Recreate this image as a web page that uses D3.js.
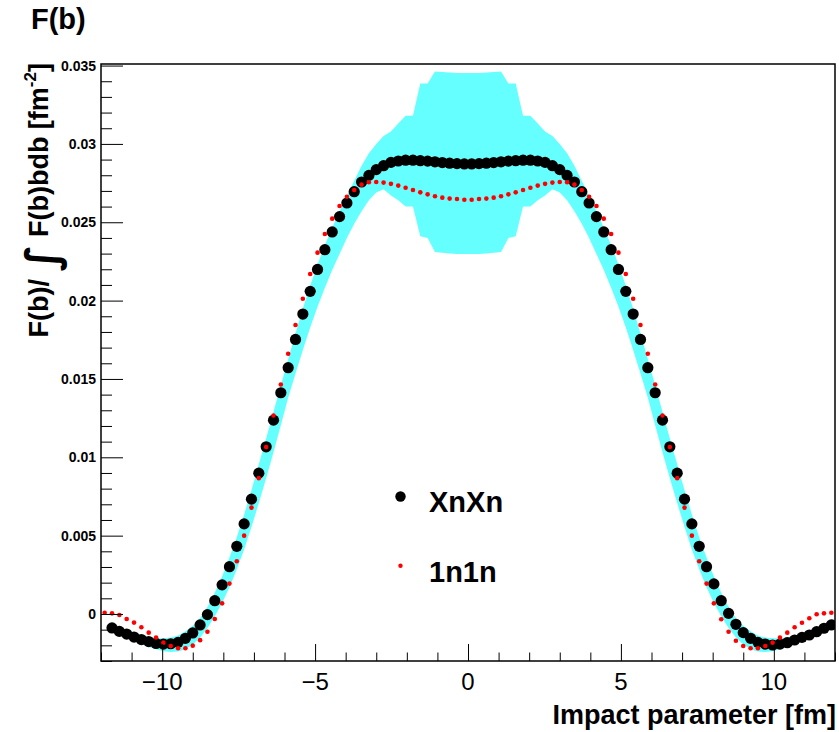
<!DOCTYPE html>
<html>
<head>
<meta charset="utf-8">
<script src="https://cdn.jsdelivr.net/npm/d3@7"></script>
<style>
  html, body { margin: 0; padding: 0; background: #fff; }
  svg { display: block; }
  text { font-family: "Liberation Sans", Arial, Helvetica, sans-serif; }
</style>
</head>
<body>
<svg id="chart" width="839" height="732"></svg>
<script>
// Histogram bin centres (bin width 0.24 fm over [-12, 12])
const binCenter = [
  -11.88, -11.64, -11.40, -11.16, -10.92, -10.68, -10.44, -10.20, -9.96, -9.72,
  -9.48, -9.24, -9.00, -8.76, -8.52, -8.28, -8.04, -7.80, -7.56, -7.32,
  -7.08, -6.84, -6.60, -6.36, -6.12, -5.88, -5.64, -5.40, -5.16, -4.92,
  -4.68, -4.44, -4.20, -3.96, -3.72, -3.48, -3.24, -3.00, -2.76, -2.52,
  -2.28, -2.04, -1.80, -1.56, -1.32, -1.08, -0.84, -0.60, -0.36, -0.12,
  0.12, 0.36, 0.60, 0.84, 1.08, 1.32, 1.56, 1.80, 2.04, 2.28,
  2.52, 2.76, 3.00, 3.24, 3.48, 3.72, 3.96, 4.20, 4.44, 4.68,
  4.92, 5.16, 5.40, 5.64, 5.88, 6.12, 6.36, 6.60, 6.84, 7.08,
  7.32, 7.56, 7.80, 8.04, 8.28, 8.52, 8.76, 9.00, 9.24, 9.48,
  9.72, 9.96, 10.20, 10.44, 10.68, 10.92, 11.16, 11.40, 11.64, 11.88
];

// XnXn: normalised F(b)
const xnxn = [
  null, -0.00089, -0.00111, -0.00128, -0.00147, -0.00163, -0.00176, -0.00188, -0.00192, -0.00190,
  -0.00181, -0.00155, -0.00121, -0.00070, -0.00004, 0.00085, 0.00186, 0.00302, 0.00432, 0.00575,
  0.00733, 0.00899, 0.01067, 0.01237, 0.01412, 0.01572, 0.01752, 0.01914, 0.02059, 0.02199,
  0.02325, 0.02438, 0.02536, 0.02623, 0.02695, 0.02757, 0.02799, 0.02836, 0.02861, 0.02882,
  0.02891, 0.02896, 0.02896, 0.02893, 0.02890, 0.02886, 0.02881, 0.02877, 0.02874, 0.02872,
  0.02872, 0.02874, 0.02877, 0.02881, 0.02886, 0.02890, 0.02893, 0.02896, 0.02896, 0.02891,
  0.02882, 0.02861, 0.02836, 0.02799, 0.02757, 0.02695, 0.02623, 0.02536, 0.02438, 0.02325,
  0.02199, 0.02059, 0.01914, 0.01752, 0.01572, 0.01412, 0.01237, 0.01067, 0.00899, 0.00733,
  0.00575, 0.00432, 0.00302, 0.00192, 0.00085, 0.00004, -0.00066, -0.00119, -0.00155, -0.00181,
  -0.00192, -0.00198, -0.00192, -0.00183, -0.00166, -0.00149, -0.00134, -0.00113, -0.00091, -0.00070
];

// 1n1n: normalised F(b)
const n1n1 = [
  0.00008, 0.00004, -0.00006, -0.00032, -0.00055, -0.00085, -0.00119, -0.00150, -0.00183, -0.00205,
  -0.00219, -0.00219, -0.00202, -0.00167, -0.00113, -0.00032, 0.00068, 0.00194, 0.00337, 0.00500,
  0.00679, 0.00867, 0.01065, 0.01267, 0.01465, 0.01661, 0.01844, 0.02012, 0.02170, 0.02306,
  0.02425, 0.02523, 0.02604, 0.02663, 0.02706, 0.02740, 0.02755, 0.02757, 0.02753, 0.02745,
  0.02734, 0.02720, 0.02706, 0.02691, 0.02678, 0.02666, 0.02657, 0.02651, 0.02648, 0.02644,
  0.02644, 0.02648, 0.02651, 0.02657, 0.02666, 0.02678, 0.02691, 0.02706, 0.02720, 0.02734,
  0.02745, 0.02753, 0.02757, 0.02755, 0.02740, 0.02706, 0.02663, 0.02604, 0.02523, 0.02425,
  0.02306, 0.02170, 0.02012, 0.01844, 0.01661, 0.01465, 0.01267, 0.01065, 0.00867, 0.00679,
  0.00500, 0.00337, 0.00194, 0.00068, -0.00034, -0.00113, -0.00171, -0.00204, -0.00219, -0.00219,
  -0.00204, -0.00183, -0.00151, -0.00119, -0.00085, -0.00056, -0.00027, -0.00002, 0.00004, 0.00008
];

// Uncertainty band on XnXn: upper and lower edges
const bandHigh = [
  null, -0.00075, -0.00093, -0.00108, -0.00124, -0.00137, -0.00148, -0.00155, -0.00155, -0.00150,
  -0.00138, -0.00110, -0.00075, -0.00025, 0.00045, 0.00135, 0.00240, 0.00360, 0.00490, 0.00635,
  0.00790, 0.00955, 0.01120, 0.01290, 0.01460, 0.01625, 0.01790, 0.01950, 0.02095, 0.02230,
  0.02355, 0.02465, 0.02570, 0.02670, 0.02765, 0.02860, 0.02940, 0.03000, 0.03050, 0.03080,
  0.03130, 0.03180, 0.03180, 0.03385, 0.03385, 0.03462, 0.03459, 0.03456, 0.03453, 0.03452,
  0.03452, 0.03453, 0.03456, 0.03459, 0.03462, 0.03385, 0.03385, 0.03180, 0.03180, 0.03130,
  0.03080, 0.03050, 0.03000, 0.02940, 0.02860, 0.02765, 0.02670, 0.02570, 0.02465, 0.02355,
  0.02230, 0.02095, 0.01950, 0.01790, 0.01625, 0.01460, 0.01290, 0.01120, 0.00955, 0.00790,
  0.00635, 0.00490, 0.00360, 0.00240, 0.00135, 0.00045, -0.00025, -0.00075, -0.00110, -0.00138,
  -0.00150, -0.00155, -0.00155, -0.00148, -0.00137, -0.00124, -0.00108, -0.00093, -0.00075, -0.00055
];
const bandLow = [
  null, -0.00105, -0.00130, -0.00150, -0.00172, -0.00192, -0.00210, -0.00225, -0.00238, -0.00243,
  -0.00240, -0.00225, -0.00195, -0.00150, -0.00090, -0.00015, 0.00070, 0.00170, 0.00285, 0.00412,
  0.00555, 0.00708, 0.00866, 0.01032, 0.01205, 0.01380, 0.01535, 0.01685, 0.01828, 0.01960,
  0.02082, 0.02195, 0.02298, 0.02400, 0.02490, 0.02570, 0.02640, 0.02690, 0.02710, 0.02670,
  0.02640, 0.02600, 0.02600, 0.02410, 0.02400, 0.02310, 0.02305, 0.02300, 0.02298, 0.02297,
  0.02297, 0.02298, 0.02300, 0.02305, 0.02310, 0.02400, 0.02410, 0.02600, 0.02600, 0.02640,
  0.02670, 0.02710, 0.02690, 0.02640, 0.02570, 0.02490, 0.02400, 0.02298, 0.02195, 0.02082,
  0.01960, 0.01828, 0.01685, 0.01535, 0.01380, 0.01205, 0.01032, 0.00866, 0.00708, 0.00555,
  0.00412, 0.00285, 0.00170, 0.00070, -0.00015, -0.00090, -0.00150, -0.00195, -0.00225, -0.00240,
  -0.00243, -0.00238, -0.00225, -0.00210, -0.00192, -0.00172, -0.00150, -0.00130, -0.00105, -0.00090
];

const xTickValues = [-10, -5, 0, 5, 10];
const yTickValues = [0, 0.005, 0.01, 0.015, 0.02, 0.025, 0.03, 0.035];
const yTickLabels = ["0", "0.005", "0.01", "0.015", "0.02", "0.025", "0.03", "0.035"];
const legendLabels = ["XnXn", "1n1n"];

const svg = d3.select("#chart");
const plot = { left: 101, right: 835, top: 64, bottom: 661 };

const x = d3.scaleLinear().domain([-12, 12]).range([plot.left, plot.right]);
const y = d3.scaleLinear().domain([-0.003, 0.0351]).range([plot.bottom, plot.top]);

// Clip marks to the frame
svg.append("defs").append("clipPath").attr("id", "frame")
  .append("rect")
  .attr("x", plot.left).attr("y", plot.top)
  .attr("width", plot.right - plot.left).attr("height", plot.bottom - plot.top);

const marks = svg.append("g").attr("clip-path", "url(#frame)");

// Band
const bandRows = binCenter.map((b, i) => ({ b, hi: bandHigh[i], lo: bandLow[i] }))
  .filter(d => d.hi !== null && d.lo !== null);
marks.append("path")
  .datum(bandRows)
  .attr("fill", "#66ffff")
  .attr("stroke", "none")
  .attr("d", d3.area()
    .x(d => x(d.b))
    .y0(d => y(d.lo))
    .y1(d => y(d.hi)));

// XnXn markers
marks.append("g").selectAll("circle")
  .data(binCenter.map((b, i) => ({ b, v: xnxn[i] })).filter(d => d.v !== null))
  .join("circle")
  .attr("cx", d => x(d.b))
  .attr("cy", d => y(d.v))
  .attr("r", 5.6)
  .attr("fill", "#000");

// 1n1n markers
marks.append("g").selectAll("circle")
  .data(binCenter.map((b, i) => ({ b, v: n1n1[i] })))
  .join("circle")
  .attr("cx", d => x(d.b))
  .attr("cy", d => y(d.v))
  .attr("r", 2.3)
  .attr("fill", "#ff0000");

// Frame
svg.append("rect")
  .attr("x", plot.left).attr("y", plot.top)
  .attr("width", plot.right - plot.left).attr("height", plot.bottom - plot.top)
  .attr("fill", "none").attr("stroke", "#000").attr("stroke-width", 1.5);

// X axis: ticks drawn inward
const xAxis = d3.axisBottom(x)
  .tickValues(d3.range(-12, 12.001, 1))
  .tickSize(0)
  .tickFormat("");
const gx = svg.append("g").attr("transform", `translate(0,${plot.bottom})`).call(xAxis);
gx.select(".domain").remove();
gx.selectAll(".tick line")
  .attr("y2", d => xTickValues.includes(d) ? -17 : -8.5)
  .attr("stroke", "#000").attr("stroke-width", 1);
svg.append("g").selectAll("text")
  .data(xTickValues)
  .join("text")
  .attr("x", d => x(d))
  .attr("y", 690)
  .attr("text-anchor", "middle")
  .attr("font-size", 24)
  .text(d => d < 0 ? "\u2212" + Math.abs(d) : String(d));

// Y axis: ticks drawn inward
const yMinor = d3.range(-3, 36, 1).map(v => v / 1000);
const yAxis = d3.axisLeft(y).tickValues(yMinor).tickSize(0).tickFormat("");
const gy = svg.append("g").attr("transform", `translate(${plot.left},0)`).call(yAxis);
gy.select(".domain").remove();
gy.selectAll(".tick line")
  .attr("x2", d => (Math.round(d * 1000) % 5 === 0) ? 22 : 11)
  .attr("stroke", "#000").attr("stroke-width", 1);
svg.append("g").selectAll("text")
  .data(yTickValues)
  .join("text")
  .attr("x", 96)
  .attr("y", d => y(d))
  .attr("dy", "0.36em")
  .attr("text-anchor", "end")
  .attr("font-size", 14)
  .attr("font-weight", "bold")
  .text((d, i) => yTickLabels[i]);

// Axis titles
svg.append("text")
  .attr("x", 836).attr("y", 724)
  .attr("text-anchor", "end")
  .attr("font-size", 27)
  .attr("font-weight", "bold")
  .text("Impact parameter [fm]");

const yTitle = svg.append("text")
  .attr("transform", "translate(48,63) rotate(-90)")
  .attr("text-anchor", "end")
  .attr("font-size", 27)
  .attr("font-weight", "bold");
yTitle.append("tspan").text("F(b)/ ");
yTitle.append("tspan")
  .attr("font-family", "DejaVu Sans")
  .attr("font-weight", "bold")
  .attr("font-size", 44)
  .attr("dy", 9)
  .text("\u222B");
yTitle.append("tspan").attr("dy", -9).text(" F(b)bdb [fm");
yTitle.append("tspan").attr("font-size", 17).attr("dy", -12).text("-2");
yTitle.append("tspan").attr("dy", 12).text("]");

// Title
svg.append("text")
  .attr("x", 31).attr("y", 29)
  .attr("font-size", 29)
  .attr("font-weight", "bold")
  .text("F(b)");

// Legend
const legend = svg.append("g");
const legendRows = [
  { label: legendLabels[0], r: 5.2, color: "#000", cy: 496.5, ty: 512 },
  { label: legendLabels[1], r: 2.2, color: "#ff0000", cy: 565.7, ty: 581.5 }
];
legend.selectAll("circle")
  .data(legendRows)
  .join("circle")
  .attr("cx", 400.5)
  .attr("cy", d => d.cy)
  .attr("r", d => d.r)
  .attr("fill", d => d.color);
legend.selectAll("text")
  .data(legendRows)
  .join("text")
  .attr("x", 429)
  .attr("y", d => d.ty)
  .attr("font-size", 29)
  .attr("font-weight", "bold")
  .text(d => d.label);
</script>
</body>
</html>
